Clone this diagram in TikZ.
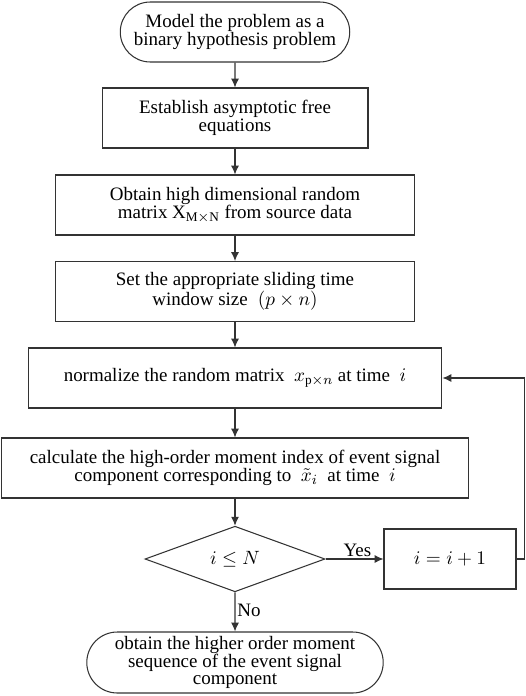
\documentclass[tikz,border=0pt]{standalone}
\usepackage{fontspec}
\setmainfont{Liberation Serif}
\usetikzlibrary{arrows.meta,shapes.geometric,shapes.misc}

\begin{document}
\begin{tikzpicture}[x=0.02cm,y=-0.02cm,
    every node/.style={font=\fontsize{10.8}{10.2}\selectfont,align=center,inner sep=1pt},
    stepbox/.style={draw=black!80,line width=0.6pt,minimum height=1.2cm},
    term/.style={draw=black!80,line width=0.6pt,rounded rectangle,minimum height=1.2cm},
    arrow/.style={draw=black!80,line width=0.6pt,-{Latex[length=5pt,width=4.5pt]}}]
  \useasboundingbox (0,0) rectangle (526,696);

  \node[term,minimum width=4.66cm] (start) at (235,32) {Model the problem as a\\binary hypothesis problem};
  \node[stepbox,minimum width=5.32cm] (est) at (235,118) {Establish asymptotic free\\equations};
  \node[stepbox,minimum width=7.2cm] (obt) at (235,205) {Obtain high dimensional random\\matrix $\mathrm{X}_{\mathrm{M}\times\mathrm{N}}$ from source data};
  \node[stepbox,minimum width=7.2cm] (win) at (235,291.5) {Set the appropriate sliding time\\window size $\;(p\times n)$};
  \node[stepbox,minimum width=8.28cm] (norm) at (235,378) {normalize the random matrix \ $x_{\mathrm{p}\times n}$ at time \ $i$};
  \node[stepbox,minimum width=9.34cm] (calc) at (235,468) {calculate the high-order moment index of event signal\\component corresponding to \ $\tilde{x}_i$ \ at time \ $i$};
  \node[draw=black!80,line width=0.6pt,diamond,inner sep=0pt,minimum width=3.6cm,minimum height=1.22cm] (dec) at (235,559) {$i\le N$};
  \node[stepbox,minimum width=2.64cm] (inc) at (450,559) {$i=i+1$};
  \node[term,minimum width=6cm,minimum height=1.22cm] (end) at (235,662.5) {obtain the higher order moment\\sequence of the event signal\\component};

  \foreach \a/\b in {start/est,est/obt,obt/win,win/norm,norm/calc,calc/dec}
    \draw[arrow] (\a) -- (\b);
  \draw[arrow] (dec) -- node[above,pos=0.55] {Yes} (inc);
  \draw[arrow] (dec) -- node[right,pos=0.45] {No} (end);
  \draw[arrow] (inc.east) -- ++(8,0) |- (norm.east);
\end{tikzpicture}
\end{document}
